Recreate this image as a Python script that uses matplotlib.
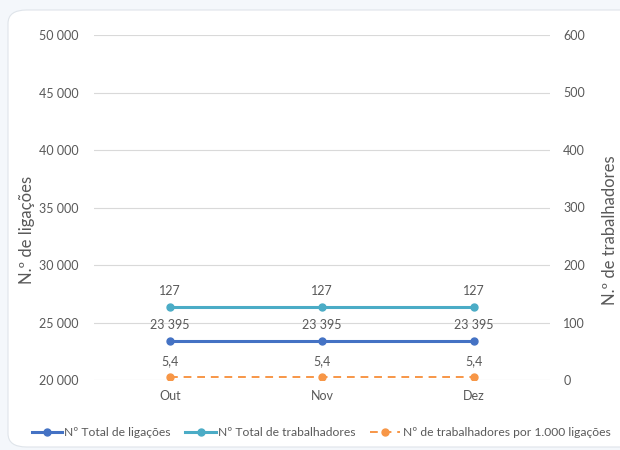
import matplotlib
matplotlib.use("Agg")
import matplotlib.pyplot as plt
from matplotlib.patches import FancyBboxPatch
from matplotlib.lines import Line2D
from matplotlib.ticker import FuncFormatter

plt.rcParams["font.family"] = ["Lato", "DejaVu Sans"]

months = ["Out", "Nov", "Dez"]
total_ligacoes = [23395, 23395, 23395]
total_trabalhadores = [127, 127, 127]
trab_por_1000 = [5.4, 5.4, 5.4]

c_blue = "#4472c4"
c_teal = "#4bacc6"
c_orange = "#f79646"
c_text = "#595959"
c_grid = "#d9d9d9"

fig = plt.figure(figsize=(6.2, 4.5), dpi=100, facecolor="#f4f7fb")

# white card behind the chart
card = FancyBboxPatch((8 / 620, 3 / 450), 640 / 620, 437 / 450,
                      boxstyle="round,pad=0,rounding_size=0.03",
                      transform=fig.transFigure, facecolor="white",
                      edgecolor="#dfe4ea", linewidth=0.8, zorder=-10)
fig.patches.append(card)

ax = fig.add_axes([94 / 620, 1 - 380 / 450, 456 / 620, 345 / 450])
ax.set_facecolor("none")
ax2 = ax.twinx()

x = list(range(len(months)))

ax.plot(x, total_ligacoes, color=c_blue, lw=2.2, marker="o", ms=5, zorder=3)
ax2.plot(x, total_trabalhadores, color=c_teal, lw=2.2, marker="o", ms=5, zorder=3)
ax2.plot(x, trab_por_1000, color=c_orange, lw=1.4, ls=(0, (4, 3)),
         marker="o", ms=5, zorder=3)

ax.set_xlim(-0.5, len(months) - 0.5)
ax.set_ylim(20000, 50000)
ax.set_yticks(range(20000, 50001, 5000))
ax2.set_ylim(0, 600)
ax2.set_yticks(range(0, 601, 100))

fmt = FuncFormatter(lambda v, p: f"{int(v):,}".replace(",", " "))
ax.yaxis.set_major_formatter(fmt)

ax.set_xticks(x)
ax.set_xticklabels(months)
ax.grid(axis="y", color=c_grid, lw=0.8)
ax.set_axisbelow(True)

for a in (ax, ax2):
    for s in a.spines.values():
        s.set_visible(False)
    a.tick_params(length=0, colors=c_text, labelsize=9)
ax.tick_params(axis="y", pad=11)
ax2.tick_params(axis="y", pad=9.5)
ax.tick_params(axis="x", pad=7)

ax.set_ylabel("N.º de ligações", color=c_text, fontsize=12)
ax2.set_ylabel("N.º de trabalhadores", color=c_text, fontsize=12)
ax.yaxis.set_label_coords(-0.13, 0.435)
ax2.yaxis.set_label_coords(1.115, 0.435)

# data labels
for xi, v in zip(x, total_ligacoes):
    ax.annotate(f"{v:,}".replace(",", " "), (xi, v), xytext=(0, 7),
                textcoords="offset points", ha="center", va="bottom",
                fontsize=9, color=c_text)
for xi, v in zip(x, total_trabalhadores):
    ax2.annotate(f"{v}", (xi, v), xytext=(0, 7), textcoords="offset points",
                 ha="center", va="bottom", fontsize=9, color=c_text)
for xi, v in zip(x, trab_por_1000):
    ax2.annotate(f"{v}".replace(".", ","), (xi, v), xytext=(0, 7),
                 textcoords="offset points", ha="center", va="bottom",
                 fontsize=9, color=c_text)

handles = [
    Line2D([], [], color=c_blue, lw=2.2, marker="o", ms=5),
    Line2D([], [], color=c_teal, lw=2.2, marker="o", ms=5),
    Line2D([], [], color=c_orange, lw=1.4, ls=(0, (4, 3)), marker="o", ms=5),
]
labels = ["Nº Total de ligações", "Nº Total de trabalhadores",
          "Nº de trabalhadores por 1.000 ligações"]
fig.legend(handles, labels, loc="center", bbox_to_anchor=(0.518, 1 - 433 / 450),
           ncol=3, frameon=False, fontsize=8.7, labelcolor=c_text,
           handlelength=2.5, handletextpad=0.2, columnspacing=1.2)

fig.savefig("out.png", dpi=100, facecolor=fig.get_facecolor())
